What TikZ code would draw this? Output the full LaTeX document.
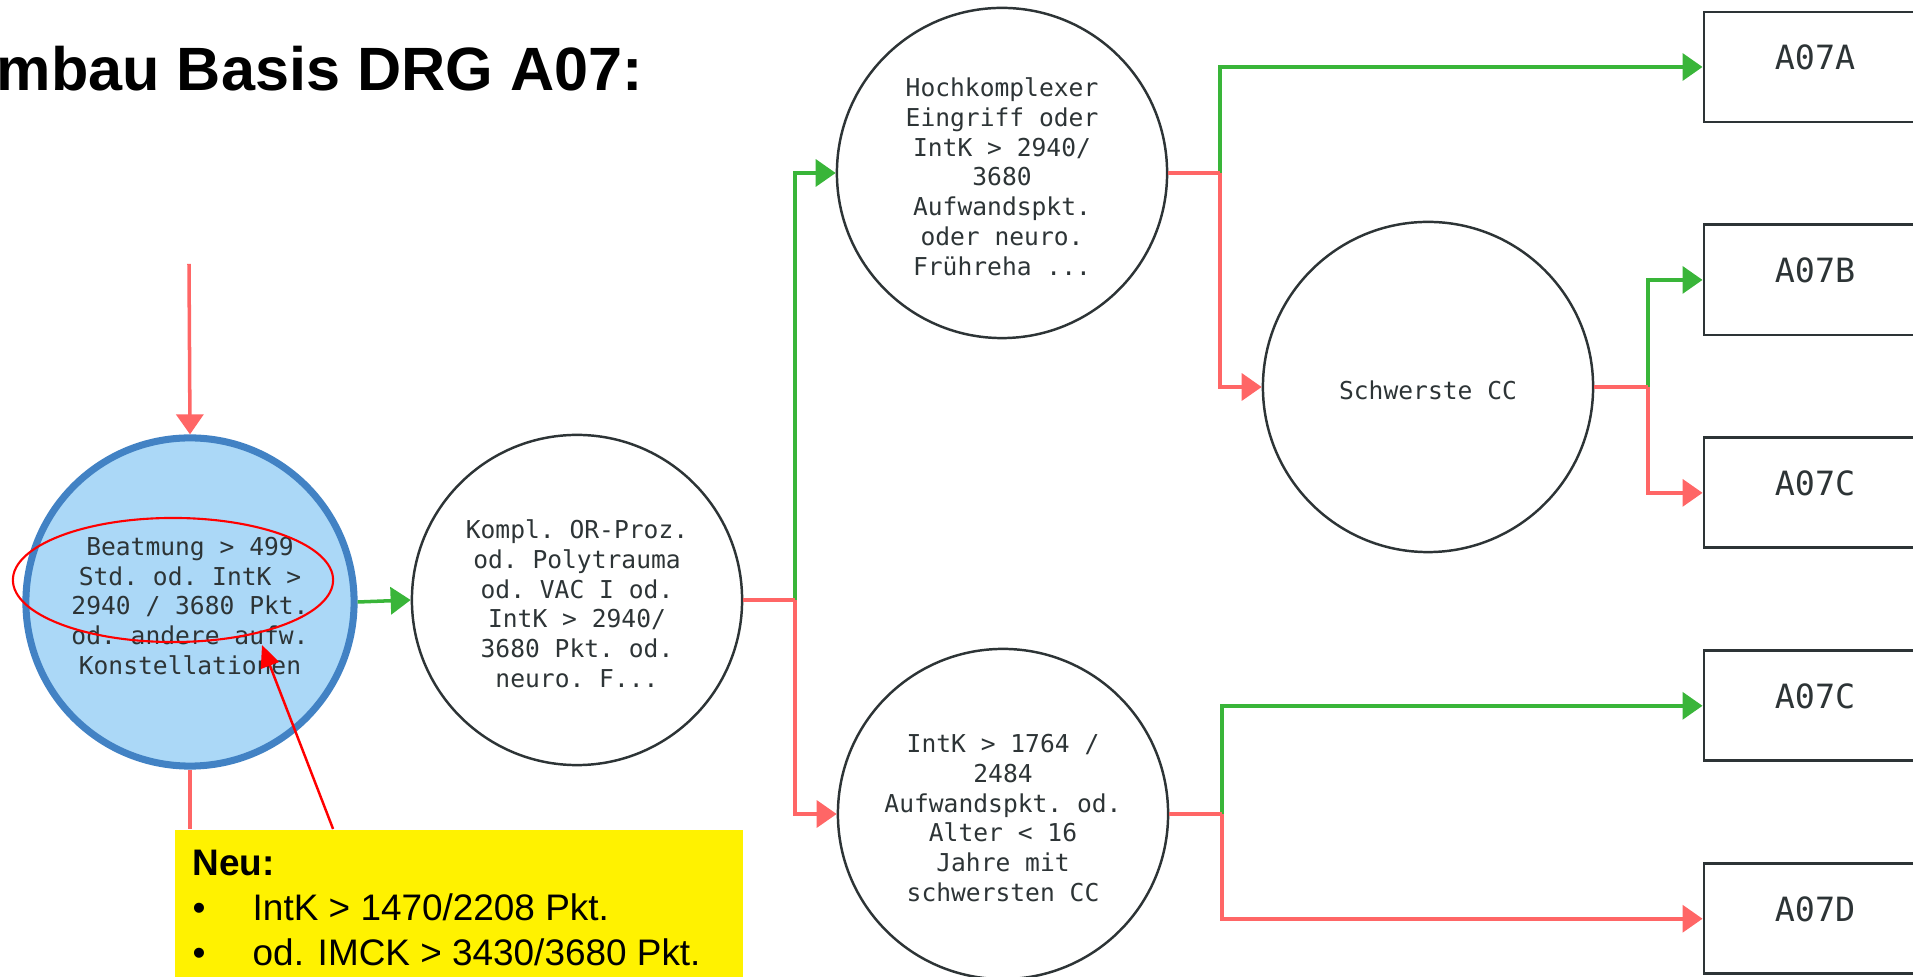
\documentclass[tikz,border=0pt]{standalone}
\usepackage{fontspec}
\setmainfont{Liberation Sans}
\setmonofont{DejaVu Sans Mono}
\usetikzlibrary{arrows.meta, positioning, shapes.geometric}
\definecolor{jagreen}{RGB}{57,181,57}
\definecolor{neinred}{RGB}{255,102,102}
\definecolor{ink}{RGB}{45,52,54}
\definecolor{beatfill}{RGB}{171,216,247}
\definecolor{beatline}{RGB}{66,130,196}
% circle text sits a little below the centre
\newcommand{\critlines}[1]{\raisebox{-0.07cm}[\height][\depth]{%
  \begin{tabular}{@{}c@{}}#1\end{tabular}}}

\begin{document}
\begin{tikzpicture}[
    x=0.01cm, y=-0.01cm,
    >={Triangle[length=2mm, width=2.7mm]},
    every node/.style={text=ink},
    crit/.style={draw=ink, circle, line width=0.7pt, minimum size=3.3cm,
                 inner sep=0pt,
                 font=\ttfamily\fontsize{7pt}{8.5pt}\selectfont},
    drg/.style ={draw=ink, line width=0.8pt, minimum width=2.22cm,
                 minimum height=1.1cm, inner sep=0pt,
                 text height=0.25cm, text depth=0.2cm,
                 font=\ttfamily\fontsize{9.5pt}{11pt}\selectfont},
    ja/.style  ={->, line width=1pt, jagreen},
    nein/.style={->, line width=1pt, neinred},
    hint/.style={-{Triangle[length=2.2mm, width=1.9mm]}, line width=0.7pt, red},
]
\useasboundingbox (0,0) rectangle (1913,977);

\node[anchor=base west, inner sep=0pt, text=black,
      font=\bfseries\fontsize{17.4pt}{20pt}\selectfont] (title) at (-4,91)
     {mbau Basis DRG A07:};

% decision circles
\node[crit, fill=beatfill, draw=beatline, line width=2pt, minimum size=3.28cm]
     (beat) at (190,602)
     {\critlines{Beatmung > 499\\Std. od. IntK >\\2940 / 3680 Pkt.\\od. andere aufw.\\Konstellationen}};
\node[crit] (kompl) at (577,600)
     {\critlines{Kompl. OR-Proz.\\od. Polytrauma\\od. VAC I od.\\IntK > 2940/\\3680 Pkt. od.\\neuro. F...}};
\node[crit] (hoch) at (1002,173)
     {\critlines{Hochkomplexer\\Eingriff oder\\IntK > 2940/\\3680\\Aufwandspkt.\\oder neuro.\\Frühreha ...}};
\node[crit] (schwer) at (1428,387) {\critlines{Schwerste CC}};
\node[crit] (intk) at (1003,814)
     {\critlines{IntK > 1764 /\\2484\\Aufwandspkt. od.\\Alter < 16\\Jahre mit\\schwersten CC}};

% result boxes
\node[drg] (a07a) at (1815,67) {A07A};
\node[drg, below=1cm of a07a] (a07b) {A07B};
\node[drg, below=1cm of a07b] (a07c) {A07C};
\node[drg, below=1cm of a07c] (a07c2) {A07C};
\node[drg, below=1cm of a07c2] (a07d) {A07D};

\coordinate (entry) at (189,264);
\coordinate (j1) at (795,600);
\coordinate (j2) at (1220,173);
\coordinate (j3) at (1648,387);
\coordinate (j4) at (1222,814);

\draw[nein] (entry) -- (beat.north);
\draw[ja] (beat.east) -- (kompl.west);

\draw[ja] (j1) |- (hoch.west);
\draw[nein] (j1) |- (intk.west);
\draw[nein, -] (kompl.east) -- (j1);

\draw[ja] (j2) |- (a07a.west);
\draw[nein] (j2) |- (schwer.west);
\draw[nein, -] (hoch.east) -- (j2);

\draw[ja] (j3) |- (a07b.west);
\draw[nein] (j3) |- (a07c.west);
\draw[nein, -] (schwer.east) -- (j3);

\draw[ja] (j4) |- (a07c2.west);
\draw[nein] (j4) |- (a07d.west);
\draw[nein, -] (intk.east) -- (j4);

% note on the new limits
\node[fill=yellow, minimum width=5.68cm, minimum height=1.47cm, inner sep=0pt,
      anchor=north west] (note) at (174,829) {};
\node[anchor=north west, inner sep=0pt, align=left, text=black,
      font=\fontsize{10.5pt}{12.8pt}\selectfont] (notetxt)
     at ([xshift=0.18cm, yshift=-0.2cm]note.north west)
     {\textbf{Neu:}\\
      \makebox[0.6cm][l]{\textbullet}IntK > 1470/2208 Pkt.\\
      \makebox[0.6cm][l]{\textbullet}od. IMCK > 3430/3680 Pkt.};
\draw[nein, -] (beat.south) -- (beat.south |- note.north);

\node[draw=red, ellipse, line width=0.6pt, minimum width=3.2cm,
      minimum height=1.24cm, inner sep=0pt] (ring) at (173,580) {};
\coordinate (hintend) at (262,645);
\draw[hint] ([xshift=1.59cm]note.north west) -- (hintend);
\end{tikzpicture}
\end{document}
